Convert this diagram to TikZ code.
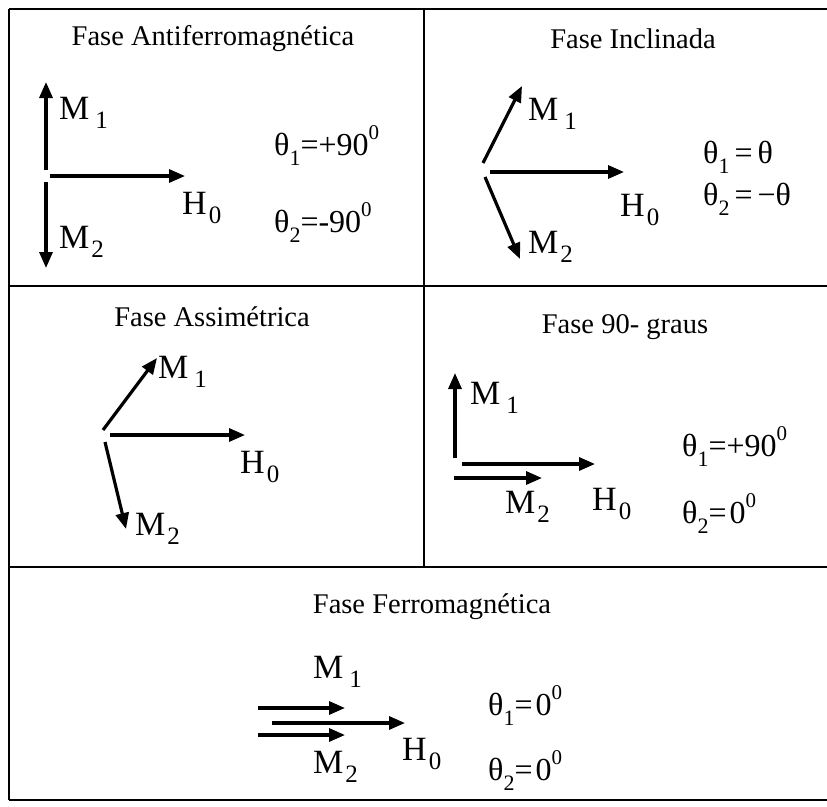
\documentclass[tikz,border=0pt]{standalone}
\usepackage{fontspec}
\setmainfont{Liberation Serif}
\usetikzlibrary{arrows.meta}
\newcommand\subs[1]{\raisebox{-9pt}{\fontsize{25}{25}\selectfont #1}}
\newcommand\tsub[1]{\raisebox{-10pt}{\fontsize{22}{22}\selectfont #1}}
\newcommand\sups[1]{\raisebox{16pt}{\fontsize{21}{21}\selectfont #1}}
\tikzset{
  vec/.style={line width=3.2pt,-{Triangle[length=16pt,width=13pt]}},
  grid/.style={line width=2.6pt},
  ttl/.style={anchor=base,inner sep=0pt,font=\fontsize{28.5}{30}\selectfont},
  lbl/.style={anchor=base west,inner sep=0pt,font=\fontsize{34}{36}\selectfont},
  eq/.style={anchor=base west,inner sep=0pt,font=\fontsize{32}{34}\selectfont},
}
\begin{document}
\begin{tikzpicture}[x=1pt,y=-1pt]
\useasboundingbox (0,0) rectangle (827,806);
% table
\draw[grid] (9,9) -- (830,9);
\draw[grid] (9,286) -- (830,286);
\draw[grid] (9,567) -- (830,567);
\draw[grid] (9,800) -- (830,800);
\draw[grid] (9,9) -- (9,800);
\draw[grid] (424,9) -- (424,567);

% ---- Cell 1: Antiferromagnetica
\node[ttl] (t1) at (213,45) {Fase Antiferromagnética};
\coordinate (a0u) at (46,170);
\coordinate (a0d) at (46,182);
\coordinate (a0r) at (50,176);
\coordinate (a1) at (46,82);
\coordinate (a2) at (46,268);
\coordinate (ah) at (185,176);
\draw[vec] (a0u) -- (a1);
\draw[vec] (a0d) -- (a2);
\draw[vec] (a0r) -- (ah);
\node[lbl] (am1) at (59,119) {M\hspace{6pt}\subs{1}};
\node[lbl] (am2) at (59,248) {M\hspace{2pt}\subs{2}};
\node[lbl] (ah0) at (182,214) {H\hspace{2pt}\subs{0}};
\node[eq] (at1) at (274,155) {θ\tsub{1}=+90\sups{0}};
\node[eq] (at2) at (274,232) {θ\tsub{2}=-90\sups{0}};

% ---- Cell 2: Inclinada
\node[ttl] (t2) at (633,48) {Fase Inclinada};
\coordinate (b0u) at (483,163);
\coordinate (b0d) at (485,177);
\coordinate (b0r) at (490,172);
\coordinate (b1) at (522,86);
\coordinate (b2) at (520,259);
\coordinate (bh) at (624,172);
\draw[vec] (b0u) -- (b1);
\draw[vec] (b0d) -- (b2);
\draw[vec] (b0r) -- (bh);
\node[lbl] (bm1) at (528,120) {M\hspace{6pt}\subs{1}};
\node[lbl] (bm2) at (528,253) {M\hspace{2pt}\subs{2}};
\node[lbl] (bh0) at (620,216) {H\hspace{2pt}\subs{0}};
\node[eq] (bt1) at (703,163) {θ\tsub{1}\hspace{5pt}=\hspace{5pt}θ};
\node[eq] (bt2) at (703,205) {θ\tsub{2}\hspace{5pt}=\hspace{5pt}−θ};

% ---- Cell 3: Assimetrica
\node[ttl] (t3) at (212,326) {Fase Assimétrica};
\coordinate (c0u) at (103,430);
\coordinate (c0d) at (105,442);
\coordinate (c0r) at (110,435);
\coordinate (c1) at (157,358);
\coordinate (c2) at (126,529);
\coordinate (ch) at (245,435);
\draw[vec] (c0u) -- (c1);
\draw[vec] (c0d) -- (c2);
\draw[vec] (c0r) -- (ch);
\node[lbl] (cm1) at (158,378) {M\hspace{6pt}\subs{1}};
\node[lbl] (cm2) at (135,535) {M\hspace{2pt}\subs{2}};
\node[lbl] (ch0) at (240,473) {H\hspace{2pt}\subs{0}};

% ---- Cell 4: 90 graus
\node[ttl] (t4) at (625,333) {Fase 90- graus};
\coordinate (d0u) at (455,458);
\coordinate (d1) at (455,373);
\coordinate (d0r) at (462,464);
\coordinate (dh) at (595,464);
\coordinate (d0m) at (454,478);
\coordinate (d2) at (542,478);
\draw[vec] (d0u) -- (d1);
\draw[vec] (d0r) -- (dh);
\draw[vec] (d0m) -- (d2);
\node[lbl] (dm1) at (470,404) {M\hspace{6pt}\subs{1}};
\node[lbl] (dm2) at (505,513) {M\hspace{2pt}\subs{2}};
\node[lbl] (dh0) at (592,510) {H\hspace{2pt}\subs{0}};
\node[eq] (dt1) at (682,456) {θ\tsub{1}=+90\sups{0}};
\node[eq] (dt2) at (682,523) {θ\tsub{2}=\hspace{3pt}0\sups{0}};

% ---- Cell 5: Ferromagnetica
\node[ttl] (t5) at (432,613) {Fase Ferromagnética};
\coordinate (e1s) at (258,708);
\coordinate (e1) at (345,708);
\coordinate (ehs) at (272,723);
\coordinate (eh) at (405,723);
\coordinate (e2s) at (258,735);
\coordinate (e2) at (345,735);
\draw[vec] (e1s) -- (e1);
\draw[vec] (ehs) -- (eh);
\draw[vec] (e2s) -- (e2);
\node[lbl] (em1) at (313,678) {M\hspace{6pt}\subs{1}};
\node[lbl] (em2) at (313,773) {M\hspace{2pt}\subs{2}};
\node[lbl] (eh0) at (402,760) {H\hspace{2pt}\subs{0}};
\node[eq] (et1) at (488,715) {θ\tsub{1}=\hspace{3pt}0\sups{0}};
\node[eq] (et2) at (488,780) {θ\tsub{2}=\hspace{3pt}0\sups{0}};
\end{tikzpicture}
\end{document}
